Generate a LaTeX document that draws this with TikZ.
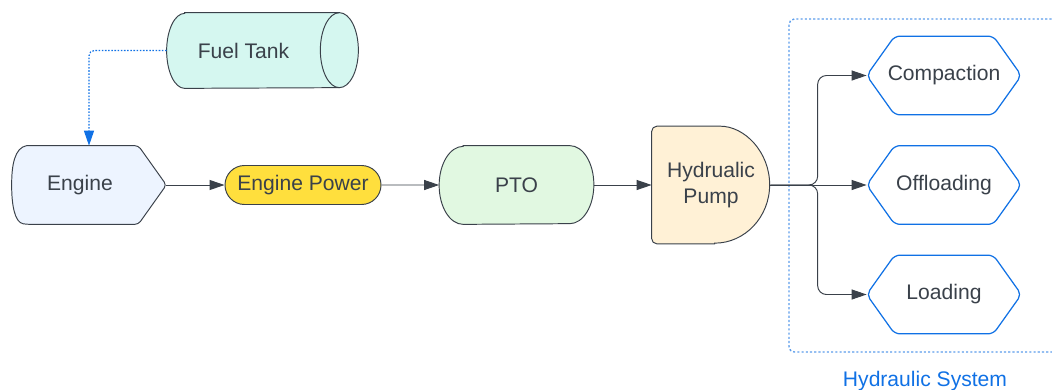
\documentclass[tikz,border=0pt]{standalone}
\usepackage{fontspec}
\setsansfont{Liberation Sans}
\usetikzlibrary{positioning,arrows.meta,backgrounds,shapes.misc}

\definecolor{ink}{HTML}{3A414A}
\definecolor{hexblue}{HTML}{1071E5}
\definecolor{boxblue}{HTML}{5C9DEB}
\definecolor{enginefill}{HTML}{EDF4FF}
\definecolor{powerfill}{HTML}{FFDF3D}
\definecolor{ptofill}{HTML}{E1F8E1}
\definecolor{pumpfill}{HTML}{FFF1D6}
\definecolor{tankfill}{HTML}{D5F7F0}

\begin{document}
\begin{tikzpicture}[
  block/.style={minimum width=3.08cm, minimum height=1.56cm, inner sep=0pt, text=ink},
  outline/.style={draw=ink, line width=0.55pt},
  hexbox/.style={block},
  flow/.style={->, draw=ink, line width=0.55pt},
  feed/.style={->, draw=hexblue, line width=0.7pt, dash pattern=on 0.9pt off 0.9pt},
  >={Triangle[length=0.3cm, width=0.2cm]},
  node distance=4.28cm,
  font=\sffamily\fontsize{12}{15}\selectfont
]
\useasboundingbox (0,0) rectangle (21.04,7.78);

\node[block] (engine) at (1.78,4.08) {Engine\hspace*{0.36cm}};
\node[block, rounded rectangle, outline, fill=powerfill, minimum width=3.12cm, minimum height=0.78cm, right of=engine] (power) {Engine Power};
\node[block, right of=power, node distance=4.27cm] (pto) {PTO};
\node[block, right of=pto, node distance=3.89cm, minimum width=2.36cm, minimum height=2.34cm, align=center] (pump) {Hydrualic\\Pump};
\node[hexbox, right of=pump, node distance=4.66cm] (offloading) {Offloading};
\node[hexbox, above of=offloading, node distance=2.19cm] (compaction) {Compaction};
\node[hexbox, below of=offloading, node distance=2.19cm] (loading) {Loading};
\node[block, minimum width=3.82cm, minimum height=1.5cm] (tank) at (5.25,6.77) {Fuel Tank\hspace*{0.76cm}};

% hydraulic group
\node[draw=boxblue, line width=0.8pt, dash pattern=on 1.2pt off 1.2pt, rounded corners=3pt, minimum width=5.44cm, minimum height=6.66cm] (hydsys) at (18.5,4.07) {};
\node[anchor=base, inner sep=0pt, text=hexblue] (hydlabel) at ([yshift=-0.68cm]hydsys.south) {Hydraulic System};

\begin{scope}[on background layer]
  \draw[outline, fill=enginefill] ([xshift=0.3cm]engine.south west) .. controls ([xshift=0.06cm,yshift=0.04cm]engine.south west) and ([yshift=-0.4cm]engine.west) .. (engine.west) .. controls ([yshift=0.4cm]engine.west) and ([xshift=0.06cm,yshift=-0.04cm]engine.north west) .. ([xshift=0.3cm]engine.north west) [rounded corners=2pt] -- ([xshift=-0.56cm]engine.north east) -- (engine.east) -- ([xshift=-0.56cm]engine.south east) -- cycle;
  \draw[outline, fill=ptofill] ([xshift=0.48cm]pto.north west) -- ([xshift=-0.48cm]pto.north east) arc[start angle=90, end angle=-90, x radius=0.48cm, y radius=0.78cm] -- ([xshift=0.48cm]pto.south west) arc[start angle=270, end angle=90, x radius=0.48cm, y radius=0.78cm] -- cycle;
  \draw[outline, fill=pumpfill] ([xshift=1.26cm]pump.south west) [rounded corners=3pt] -- (pump.south west) -- (pump.north west) -- ([xshift=1.26cm]pump.north west) [sharp corners] arc[start angle=90, end angle=-90, x radius=1.1cm, y radius=1.17cm] -- cycle;
  \draw[outline, fill=tankfill] ([xshift=0.36cm]tank.north west) -- ([xshift=-0.38cm]tank.north east) arc[start angle=90, end angle=-90, x radius=0.38cm, y radius=0.75cm] -- ([xshift=0.36cm]tank.south west) arc[start angle=270, end angle=90, x radius=0.36cm, y radius=0.75cm] -- cycle;
  \draw[outline] ([xshift=-0.38cm]tank.north east) arc[start angle=90, end angle=270, x radius=0.38cm, y radius=0.75cm];
  \foreach \hex in {compaction,offloading,loading}
    \draw[draw=hexblue, line width=0.7pt, fill=white, rounded corners=3pt] (\hex.west) -- ([xshift=0.56cm]\hex.north west) -- ([xshift=-0.56cm]\hex.north east) -- (\hex.east) -- ([xshift=-0.56cm]\hex.south east) -- ([xshift=0.56cm]\hex.south west) -- cycle;
\end{scope}

\coordinate (split) at ([xshift=-0.98cm]offloading.west);

\draw[feed, rounded corners=3pt] (tank.west) -| (engine.north);
\draw[flow] (engine) -- (power);
\draw[flow] (power) -- (pto);
\draw[flow] (pto) -- (pump);
\draw[flow] (pump) -- (offloading);
\draw[flow, rounded corners=5pt] (pump) -- (split) |- (compaction);
\draw[flow, rounded corners=5pt] (pump) -- (split) |- (loading);
\end{tikzpicture}
\end{document}
